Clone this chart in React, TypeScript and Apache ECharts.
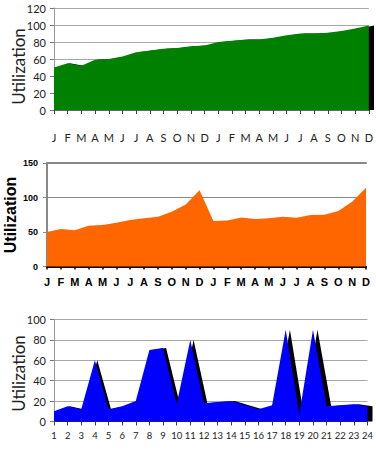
import React, { useEffect, useRef } from 'react';
import * as echarts from 'echarts';

// Month initials for two consecutive years
const monthInitials = ['J', 'F', 'M', 'A', 'M', 'J', 'J', 'A', 'S', 'O', 'N', 'D'];
const twoYearMonths = [...monthInitials, ...monthInitials];

// Hour-of-day labels for the bottom panel
const hourLabels = [
  '1', '2', '3', '4', '5', '6', '7', '8', '9', '10', '11', '12',
  '13', '14', '15', '16', '17', '18', '19', '20', '21', '22', '23', '24',
];

// Utilization values (%)
const steadyGrowth = [50, 55, 52, 59, 60, 63, 68, 70, 72, 73, 75, 76, 80, 81.5, 83, 83, 85, 88, 90, 90, 91, 93, 96, 99.5];
const yearEndPeaks = [50, 54.5, 52.5, 59, 60, 63.5, 67.5, 70, 72, 79.5, 90, 110.5, 66, 66.5, 71, 69, 70, 72, 70.5, 74.5, 75, 80.5, 94, 114];
const hourlySpikes = [10, 15, 12, 60, 12, 15, 20, 70, 72, 17, 80, 18, 19, 20, 16, 12, 16, 90, 7, 90, 15, 16, 17, 15];

const lightFont = 'Lato, "Open Sans", sans-serif';
const boldFont = '"Liberation Sans", Arial, sans-serif';

// Panel rectangles; the drop-shadow copies sit 2px to the right
const panels = [
  { left: 54, top: 8, width: 318, height: 102 },
  { left: 47, top: 163, width: 319, height: 103.5 },
  { left: 54, top: 319.5, width: 316.5, height: 102 },
];
const SHADOW_DX = 2;

export default function App() {
  const ref = useRef<HTMLDivElement>(null);

  useEffect(() => {
    if (!ref.current) return;
    const chart = echarts.init(ref.current, undefined, { renderer: 'svg' });

    const lightX = (gridIndex: number, data: string[], margin: number, fontSize: number) => ({
      type: 'category',
      gridIndex,
      data,
      boundaryGap: false,
      axisLine: { lineStyle: { color: '#666', width: 1 } },
      axisTick: { show: true, length: 4, lineStyle: { color: '#444' }, interval: 0 },
      axisLabel: { interval: 0, margin, fontSize, color: '#222', fontFamily: lightFont },
    });

    const lightY = (gridIndex: number, max: number, interval: number) => ({
      type: 'value',
      gridIndex,
      min: 0,
      max,
      interval,
      axisLine: { show: true, lineStyle: { color: '#999' } },
      axisTick: { show: true, length: 4, lineStyle: { color: '#777' } },
      axisLabel: { margin: 8, fontSize: 11, color: '#222', fontFamily: lightFont },
      splitLine: { lineStyle: { color: '#a8a8a8', width: 1 } },
    });

    const hiddenX = (gridIndex: number, data: string[]) => ({
      type: 'category',
      gridIndex,
      data,
      boundaryGap: false,
      show: false,
    });
    const hiddenY = (gridIndex: number, max: number) => ({
      type: 'value',
      gridIndex,
      min: 0,
      max,
      show: false,
      splitLine: { show: false },
    });

    const area = (idx: number, data: number[], color: string) => ({
      type: 'line',
      xAxisIndex: idx,
      yAxisIndex: idx,
      data,
      symbol: 'none',
      clip: false,
      silent: true,
      lineStyle: { width: 0, color },
      areaStyle: { color, opacity: 1 },
    });

    const yTitle = (x: number, y: number, style: any) => ({
      type: 'text',
      x,
      y,
      rotation: Math.PI / 2,
      style: { text: 'Utilization', align: 'center', verticalAlign: 'middle', ...style },
    });

    chart.setOption({
      animation: false,
      grid: [
        ...panels,
        { ...panels[0], left: panels[0].left + SHADOW_DX },
        { ...panels[2], left: panels[2].left + SHADOW_DX },
      ],
      xAxis: [
        lightX(0, twoYearMonths, 22, 11),
        {
          type: 'category',
          gridIndex: 1,
          data: twoYearMonths,
          boundaryGap: false,
          axisLine: { lineStyle: { color: '#000', width: 2 } },
          axisTick: { show: true, length: 3, lineStyle: { color: '#000', width: 1.5 }, interval: 0 },
          axisLabel: { interval: 0, margin: 10, fontSize: 11, fontWeight: 'bold', color: '#000', fontFamily: boldFont },
        },
        lightX(2, hourLabels, 9, 9.5),
        hiddenX(3, twoYearMonths),
        hiddenX(4, hourLabels),
        // heavier frame line along the top of the middle panel
        {
          type: 'category',
          gridIndex: 1,
          position: 'top',
          data: twoYearMonths,
          boundaryGap: false,
          axisLine: { lineStyle: { color: '#888', width: 2 } },
          axisTick: { show: false },
          axisLabel: { show: false },
        },
      ],
      yAxis: [
        lightY(0, 120, 20),
        {
          type: 'value',
          gridIndex: 1,
          min: 0,
          max: 150,
          interval: 50,
          axisLine: { show: true, lineStyle: { color: '#888', width: 2 } },
          axisTick: { show: true, length: 4, lineStyle: { color: '#888' } },
          axisLabel: { margin: 9, fontSize: 9, fontWeight: 'bold', color: '#000', fontFamily: boldFont },
          splitLine: { lineStyle: { color: '#888', width: 1 } },
        },
        lightY(2, 100, 20),
        hiddenY(3, 120),
        hiddenY(4, 100),
      ],
      series: [
        // black drop shadows first so the coloured areas cover them
        area(3, steadyGrowth, '#000'),
        area(4, hourlySpikes, '#000'),
        area(0, steadyGrowth, '#008000'),
        area(1, yearEndPeaks, '#ff6600'),
        area(2, hourlySpikes, '#0000ff'),
      ],
      graphic: [
        yTitle(18.5, 66.5, { fontSize: 17, fill: '#222', fontFamily: lightFont }),
        yTitle(10, 215, { fontSize: 16, fontWeight: 'bold', fill: '#000', fontFamily: boldFont }),
        yTitle(18.5, 373.5, { fontSize: 17, fill: '#222', fontFamily: lightFont }),
      ],
    });

    return () => chart.dispose();
  }, []);

  return (
    <div
      ref={ref}
      style={{ position: 'fixed', left: 0, top: 0, width: 376, height: 450, background: '#fff' }}
    />
  );
}
